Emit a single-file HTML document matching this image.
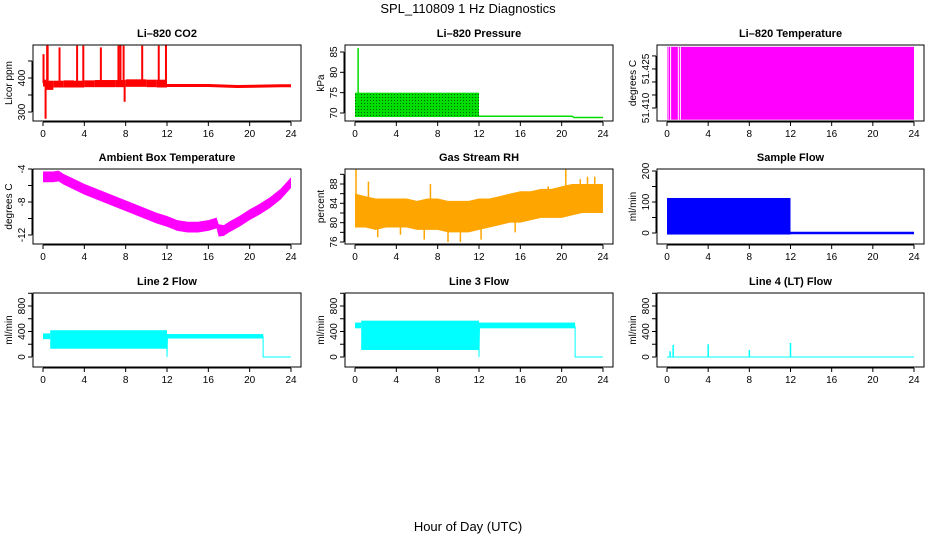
<!DOCTYPE html>
<html><head><meta charset="utf-8"><style>
html,body{margin:0;padding:0;background:#fff;}
svg{display:block;font-family:"Liberation Sans","DejaVu Sans",sans-serif;}
</style></head><body>
<svg id="c" width="936" height="540" viewBox="0 0 936 540">
<defs>
<pattern id="prdots" width="3" height="3" patternUnits="userSpaceOnUse"><rect width="3" height="3" fill="#00dd00"/><rect x="1" y="1" width="1" height="1" fill="#006600"/></pattern>
</defs>
<text x="468" y="13" text-anchor="middle" font-size="13">SPL_110809  1 Hz Diagnostics</text>
<text x="468" y="531" text-anchor="middle" font-size="13">Hour of Day (UTC)</text>
</svg>
<script>
// ---- data ----
const xTicks=[0,4,8,12,16,20,24];
// CO2
const co2BandT=[0,0.3,1,2,3,4,5,6,7,8,9,10,11,12];
const co2BandLo=[375,365,372,372,372,373,373,373,373,374,374,373,372,372];
const co2BandHi=[395,392,392,393,392,393,394,394,394,396,396,395,395,395];
const co2LineT=[12,16,18.8,23,24];
const co2LineV=[378,378,375,377,377];
const co2SpikeT=[0.05,0.4,0.45,1.6,3.3,3.9,5.6,7.3,7.5,7.8,9.6,11.2,11.9,0.25,7.9];
const co2SpikeV=[470,495,495,490,495,495,490,495,497,495,495,495,497,280,330];
// Pressure
const prBandT=[0,12];
const prBandLo=[69,69];
const prBandHi=[75,75];
const prLineT=[12,21,21.2,24];
const prLineV=[69.2,69.2,68.9,68.9];
const prSpikeT=[0.3];
const prSpikeV=[86];
// Li-820 Temperature
const ltBandT=[0,24];
const ltBandLo=[51.4055,51.4055];
const ltBandHi=[51.4335,51.4335];
const ltGapT=[0.1,0.35,1.1,1.3];
// Ambient
const amT=[0,1,1.5,2,3,4,5,6,7,8,9,10,11,12,13,14,15,16,16.8,17,17.5,18,19,20,21,22,23,24];
const amHi=[-4.3,-4.3,-4.2,-4.6,-5.2,-5.8,-6.3,-6.8,-7.3,-7.8,-8.3,-8.8,-9.3,-9.7,-10.2,-10.4,-10.4,-10.2,-9.9,-10.7,-10.8,-10.4,-9.7,-8.9,-8.2,-7.4,-6.4,-5.0];
const amLo=[-5.6,-5.6,-5.5,-5.9,-6.5,-7.1,-7.6,-8.1,-8.6,-9.1,-9.6,-10.1,-10.6,-11.0,-11.5,-11.7,-11.7,-11.5,-11.2,-12.2,-12.1,-11.7,-11.0,-10.2,-9.5,-8.7,-7.7,-6.3];
// RH
const rhT=[0,1,2,3,4,5,6,7,8,9,10,11,12,13,14,15,16,17,18,19,20,21,22,23,24];
const rhLo=[79,79,78.5,79,79,79,78.5,78.5,78.5,78,78,78,78.5,79,79.5,80,80,80.5,81,81,81,81.5,82,82,82];
const rhHi=[86,85.5,85,85,85,85,84.5,85,85,84.5,84.5,84.5,85,85,85.5,86,86.5,86.5,87,87,87.5,88,88,88,88];
const rhSpikeT=[0.1,1.3,7.3,9,10.2,12.2,20.4,21.8,22.5,23.2,6.7,2.2,4.4,15.5,18.7];
const rhSpikeV=[91,88.5,88,76,76,76.5,91,89,89.5,89.5,76.5,77,77.5,78,87.5];
// Sample flow
const sfBandT=[0,12];
const sfBandLo=[-5,-5];
const sfBandHi=[113,118];
const sfLineT=[12,24];
const sfLineV=[0,0];
// Line 2 flow
const l2BandT=[0,0.7,12,21.3];
const l2BandLo=[280,130,290,290];
const l2BandHi=[370,420,360,360];
const l2LineT=[12,12,12.05,21.3,21.3,24];
const l2LineV=[330,0,330,330,0,0];
// Line 3 flow
const l3BandT=[0,0.6,12,21.3];
const l3BandLo=[450,110,450,450];
const l3BandHi=[540,570,540,540];
const l3LineT=[12,12,12.05,21.3,21.3,24];
const l3LineV=[480,0,480,480,0,0];
// Line 4 flow
const l4LineT=[0,24];
const l4LineV=[0,0];
const l4SpikeT=[0.3,0.6,4,8,12];
const l4SpikeV=[90,190,200,110,220];

// ---- layout ----
const NS='http://www.w3.org/2000/svg';
const svg=document.getElementById('c');
const colX0=[43,355,667], colX24=[291,603,914];
const rowTop=[45,169,293], rowBot=[121,244,367];
function mk(tag,attrs,parent){const e=document.createElementNS(NS,tag);for(const k in attrs)e.setAttribute(k,attrs[k]);(parent||svg).appendChild(e);return e;}

function panel(col,row,name,title,ylab,ymin,ymax,yt,ylabels){
  const g=mk('g',{});
  
  
  const x0=colX0[col],x24=colX24[col],top=rowTop[row],bot=rowBot[row];
  const xs=t=>x0+t*(x24-x0)/24;
  const ys=v=>bot-(v-ymin)/(ymax-ymin)*(bot-top);
  const P={g,xs,ys,top,bot,x0,x24,left:x0-10,right:x24+10};
  const t=mk('text',{x:(P.left+P.right)/2,y:top-8,'text-anchor':'middle','font-size':11,'font-weight':'bold'},g);
  t.textContent=title;
  
  
  const xa=mk('g',{},g);
  
  
  mk('line',{x1:xs(0),x2:xs(24),y1:bot+1,y2:bot+1,stroke:'#000'},xa);
  xTicks.forEach(v=>{
    mk('line',{x1:xs(v),x2:xs(v),y1:bot+1,y2:bot+5,stroke:'#000'},xa);
    const l=mk('text',{x:xs(v),y:bot+16,'text-anchor':'middle','font-size':10},xa);
    l.textContent=v;
  });
  const ya=mk('g',{},g);
  
  
  mk('line',{x1:P.left-1,x2:P.left-1,y1:ys(yt[0]),y2:ys(yt[yt.length-1]),stroke:'#000'},ya);
  yt.forEach(v=>{
    mk('line',{x1:P.left-5,x2:P.left-1,y1:ys(v),y2:ys(v),stroke:'#000'},ya);
  });
  ylabels.forEach(v=>{
    const l=mk('text',{x:0,y:0,'text-anchor':'middle','font-size':10,transform:`translate(${P.left-8},${ys(v)}) rotate(-90)`},ya);
    l.textContent=v;
  });
  const yl=mk('text',{x:0,y:0,'text-anchor':'middle','font-size':10,transform:`translate(${P.left-21},${(top+bot)/2}) rotate(-90)`},g);
  yl.textContent=ylab;
  
  
  const data=mk('g',{},g);
  
  
  P.d=data;
  P.finish=()=>{const b=mk('rect',{x:P.left,y:top,width:P.right-P.left,height:bot-top,fill:'none',stroke:'#000'},g);
    
    };
  return P;
}
function stepBand(P,T,lo,hi,fill){
  for(let i=0;i<T.length-1;i++){
    const y1=P.ys(hi[i]),y2=P.ys(lo[i]);
    const r=mk('rect',{x:P.xs(T[i]),y:y1,width:Math.max(1,P.xs(T[i+1])-P.xs(T[i])),height:y2-y1,fill:fill},P.d);
    
    
  }
}
function smoothBand(P,T,lo,hi,fill){
  let pts=T.map((t,i)=>P.xs(t)+','+P.ys(hi[i]));
  for(let i=T.length-1;i>=0;i--)pts.push(P.xs(T[i])+','+P.ys(lo[i]));
  const p=mk('polygon',{points:pts.join(' '),fill:fill},P.d);
  
  
}
function line(P,T,V,color,w){
  const p=mk('polyline',{points:T.map((t,i)=>P.xs(t)+','+P.ys(V[i])).join(' '),fill:'none',stroke:color,'stroke-width':w},P.d);
  
  
}
function spikes(P,T,V,base,color,w){
  T.forEach((t,i)=>{
    const l=mk('line',{x1:P.xs(t),x2:P.xs(t),y1:P.ys(base),y2:P.ys(V[i]),stroke:color,'stroke-width':w},P.d);
    
    
  });
}

let P;
P=panel(0,0,'co2','Li\u2013820 CO2','Licor ppm',273.5,497,[300,350,400,450],[300,400]);
stepBand(P,co2BandT,co2BandLo,co2BandHi,'#ff0000');
line(P,co2LineT,co2LineV,'#ff0000',3);
spikes(P,co2SpikeT,co2SpikeV,385,'#ff0000',2);
P.finish();
P=panel(1,0,'pressure','Li\u2013820 Pressure','kPa',68.03,86.72,[70,75,80,85],[70,75,80,85]);
stepBand(P,prBandT,prBandLo,prBandHi,'url(#prdots)');
line(P,prLineT,prLineV,'#00dd00',1.5);
spikes(P,prSpikeT,prSpikeV,72,'#00dd00',1.5);
P.finish();
P=panel(2,0,'li820-temperature','Li\u2013820 Temperature','degrees C',51.405,51.4342,[51.41,51.415,51.42,51.425,51.43],['51.410','51.425']);
stepBand(P,ltBandT,ltBandLo,ltBandHi,'#ff00ff');
ltGapT.forEach(t=>{const l=mk('line',{x1:P.xs(t),x2:P.xs(t),y1:P.ys(51.4335),y2:P.ys(51.4055),stroke:'#fff','stroke-width':1},P.d);
  
  });
P.finish();
P=panel(0,1,'ambient-temperature','Ambient Box Temperature','degrees C',-13.09,-4,[-4,-6,-8,-10,-12],[-4,-8,-12]);
smoothBand(P,amT,amLo,amHi,'#ff00ff');
P.finish();
P=panel(1,1,'gas-stream-rh','Gas Stream RH','percent',75.59,91.1,[76,78,80,82,84,86,88,90],[76,80,84,88]);
smoothBand(P,rhT,rhLo,rhHi,'#ffa500');
spikes(P,rhSpikeT,rhSpikeV,82,'#ffa500',1.5);
P.finish();
P=panel(2,1,'sample-flow','Sample Flow','ml/min',-35.5,206.5,[0,50,100,150,200],[0,100,200]);
stepBand(P,sfBandT,sfBandLo,sfBandHi,'#0000ff');
line(P,sfLineT,sfLineV,'#0000ff',2.5);
P.finish();
P=panel(0,2,'line2-flow','Line 2 Flow','ml/min',-157,1004,[0,200,400,600,800,1000],[0,400,800]);
stepBand(P,l2BandT,l2BandLo,l2BandHi,'#00ffff');
line(P,l2LineT,l2LineV,'#00ffff',1);
P.finish();
P=panel(1,2,'line3-flow','Line 3 Flow','ml/min',-157,1004,[0,200,400,600,800,1000],[0,400,800]);
stepBand(P,l3BandT,l3BandLo,l3BandHi,'#00ffff');
line(P,l3LineT,l3LineV,'#00ffff',1);
P.finish();
P=panel(2,2,'line4-flow','Line 4 (LT) Flow','ml/min',-157,1004,[0,200,400,600,800,1000],[0,400,800]);
line(P,l4LineT,l4LineV,'#00ffff',1);
spikes(P,l4SpikeT,l4SpikeV,0,'#00ffff',1.5);
P.finish();
</script>
</body></html>
